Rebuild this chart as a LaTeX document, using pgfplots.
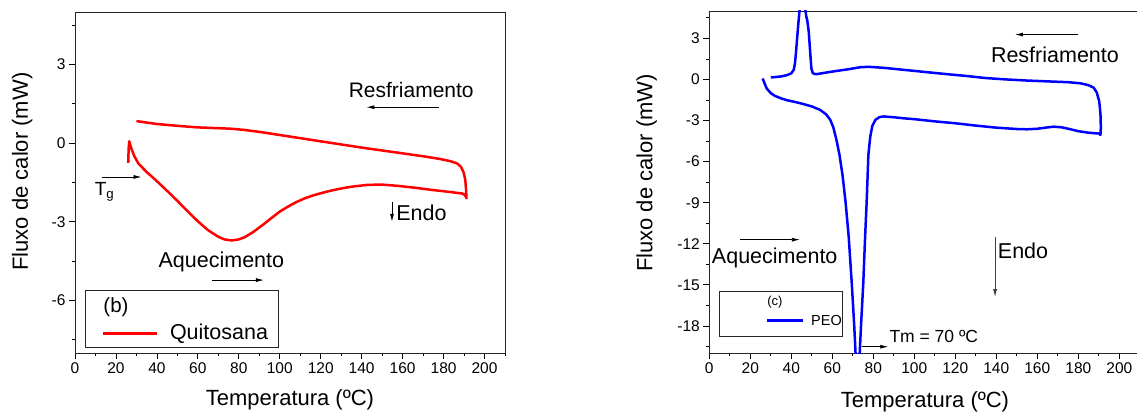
\documentclass[border=0pt]{standalone}
\usepackage{pgfplots}
\pgfplotsset{compat=1.18}
\usepackage{fontspec}
\setmainfont{Liberation Sans}
\usetikzlibrary{arrows.meta}
\newcommand\fs[1]{\fontsize{#1}{#1}\selectfont}

\pgfplotsset{
  dscaxis/.style={
    scale only axis,
    anchor=south west,
    xmin=0, xmax=210,
    xtick={0,20,...,200},
    minor xtick={10,30,...,210},
    tick pos=left,
    tick align=outside,
    major tick length=6pt,
    minor tick length=3pt,
    every tick/.style={black, line width=0.8pt},
    axis line style={black!85, line width=0.9pt},
    tick label style={font=\fs{15.5}},
    /pgf/number format/assume math mode=true,
    label style={font=\fs{22}},
    xlabel={Temperatura (ºC)},
    ylabel={Fluxo de calor (mW)},
  },
}
\tikzset{annot/.style={black, line width=0.8pt, -{Latex[length=8pt,width=4pt]}}}

\begin{document}
\begin{tikzpicture}
\path[use as bounding box] (0pt,0pt) rectangle (1137pt,414pt);
\clip (0pt,0pt) rectangle (1137pt,414pt);

% ---------- (b) chitosan ----------
\begin{axis}[dscaxis,
  at={(75pt,61pt)}, width=430pt, height=341pt,
  ymin=-8, ymax=5,
  ytick={-6,-3,0,3},
  minor ytick={-7.5,-4.5,-1.5,1.5,4.5},
  xlabel style={at={(axis description cs:0.5,-0.138)}, anchor=center},
  ylabel style={at={(axis description cs:-0.123,0.532)}, anchor=center},
]
\addplot[red, line width=2.5pt, line join=round] coordinates {
  (26.0,-0.75) (26.2,-0.2) (26.5,0.07) (27.5,-0.2) (29,-0.5) (31,-0.78)
  (35,-1.1) (40,-1.45) (45,-1.82) (50,-2.2) (55,-2.6) (60,-2.98)
  (65,-3.32) (70,-3.57) (73,-3.67) (76.5,-3.71) (80,-3.67) (83,-3.58)
  (87,-3.39) (92,-3.1) (96,-2.85) (100,-2.61) (104,-2.42) (108,-2.25)
  (112,-2.11) (116,-2.0) (120,-1.91) (124,-1.83) (128,-1.76) (132,-1.7)
  (136,-1.65) (143,-1.59) (150,-1.58) (158,-1.63) (166,-1.7)
  (175,-1.79) (183,-1.86) (189,-1.92) (190.5,-1.98) (191.2,-2.1)
  (191,-1.8) (190.6,-1.4) (189.8,-1.12) (188.5,-0.9) (186.5,-0.77)
  (183,-0.68) (178,-0.6) (170,-0.5) (160,-0.39) (150,-0.28) (140,-0.17)
  (130,-0.05) (120,0.07) (110,0.19) (100,0.31) (90,0.43) (82,0.51)
  (76,0.55) (70,0.57) (60,0.6) (50,0.66) (40,0.73) (30,0.84)
};
% annotations
\node[font=\fs{21}, anchor=center] at (axis cs:164.2,2.03) {Resfriamento};
\draw[annot] (axis cs:178,1.37) -- (axis cs:142.3,1.37);
\draw[annot] (axis cs:154.8,-2.24) -- (axis cs:154.8,-3.0);
\node[font=\fs{21.5}, anchor=west, inner sep=0pt] at (axis cs:156.8,-2.66) {Endo};
\draw[annot] (axis cs:13,-1.29) -- (axis cs:32.5,-1.29);
\node[font=\fs{19}, anchor=west, inner sep=0pt] at (axis cs:9.6,-1.85) {T\textsubscript{g}};
\node[font=\fs{21.5}, anchor=center] at (axis cs:71.5,-4.52) {Aquecimento};
\draw[annot] (axis cs:66.7,-5.22) -- (axis cs:92.3,-5.22);
% legend
\draw[black!85, line width=0.8pt] (axis cs:5.2,-5.6) rectangle (axis cs:99.5,-7.78);
\node[font=\fs{20.5}, anchor=west, inner sep=0pt] at (axis cs:13.8,-6.24) {(b)};
\draw[red, line width=2.5pt] (axis cs:13.8,-7.25) -- (axis cs:39.9,-7.25);
\node[font=\fs{21.5}, anchor=west, inner sep=0pt] at (axis cs:46.3,-7.25) {Quitosana};
\end{axis}

% ---------- (c) PEO ----------
\begin{axis}[dscaxis,
  at={(709.3pt,60.7pt)}, width=430.5pt, height=342.3pt,
  ymin=-20, ymax=5,
  ytick={-18,-15,...,3},
  minor ytick={-19.5,-16.5,...,4.5},
  xlabel style={at={(axis description cs:0.501,-0.141)}, anchor=center},
  ylabel style={at={(axis description cs:-0.1455,0.527)}, anchor=center},
]
\addplot[blue, line width=2.5pt, line join=round] coordinates {
  (26,0.07) (27,-0.3) (28,-0.66) (30,-1.0) (32,-1.2) (35,-1.38) (38,-1.52)
  (42,-1.65) (46,-1.8) (50,-1.97) (54,-2.22) (57,-2.55) (59,-2.95)
  (60.5,-3.5) (62,-4.4) (63.5,-5.5) (65,-7) (66.5,-9) (68,-11.5)
  (69.5,-14.9) (70.7,-18) (71.5,-20.5) (72.3,-21) (73.2,-20.5) (74,-18)
  (75.1,-14.9) (76,-11.5) (76.8,-8.8) (77.6,-5.5) (78.5,-4.2) (79.5,-3.4)
  (81,-2.95) (83,-2.75) (85,-2.7) (90,-2.76) (95,-2.84) (100,-2.9)
  (110,-3.06) (120,-3.2) (130,-3.37) (140,-3.52) (150,-3.62) (155,-3.64)
  (160,-3.6) (165,-3.5) (168,-3.45) (172,-3.5) (176,-3.63) (180,-3.78)
  (185,-3.89) (190,-3.95) (190.8,-4.05) (191,-3.5) (190.8,-2.5)
  (190.2,-1.6) (189,-0.95) (187.5,-0.6) (185,-0.42) (181,-0.28)
  (175,-0.2) (165,-0.14) (155,-0.08) (145,0.0) (135,0.1) (125,0.26)
  (115,0.4) (105,0.55) (95,0.7) (85,0.85) (78,0.92) (74,0.9) (68,0.75)
  (62,0.62) (56,0.48) (52,0.38) (50.5,0.45) (49.8,0.8) (49.2,2.0)
  (48.5,3.5) (47.8,4.3) (47.3,4.6) (46.5,5.5) (45.5,6.2) (44.3,5.5)
  (43.5,4.2) (43,3.3) (42.3,2.0) (41.8,1.2) (41.2,0.7) (40,0.45)
  (38,0.32) (35,0.22) (32,0.17) (30,0.15)
};
% annotations
\draw[annot] (axis cs:180,3.28) -- (axis cs:149.1,3.28);
\node[font=\fs{21.5}, anchor=center] at (axis cs:168.6,1.77) {Resfriamento};
\draw[annot] (axis cs:15,-11.7) -- (axis cs:44.2,-11.7);
\node[font=\fs{21.5}, anchor=west, inner sep=0pt] at (axis cs:1.2,-13.04) {Aquecimento};
\draw[annot, black!75] (axis cs:139.4,-11.5) -- (axis cs:139.4,-15.9);
\node[font=\fs{21.5}, anchor=west, inner sep=0pt] at (axis cs:140.7,-12.48) {Endo};
\node[font=\fs{17.5}, anchor=west, inner sep=0pt] at (axis cs:87.8,-18.79) {Tm = 70 ºC};
\draw[annot] (axis cs:74.3,-19.52) -- (axis cs:87.3,-19.52);
% legend
\draw[black!85, line width=0.8pt] (axis cs:4.7,-15.5) rectangle (axis cs:64.9,-18.79);
\node[font=\fs{13}, anchor=center] at (axis cs:32,-16.27) {(c)};
\draw[blue, line width=2.5pt] (axis cs:28.3,-17.6) -- (axis cs:45.6,-17.6);
\node[font=\fs{14.5}, anchor=west, inner sep=0pt] at (axis cs:49.6,-17.6) {PEO};
\end{axis}
\end{tikzpicture}
\end{document}
